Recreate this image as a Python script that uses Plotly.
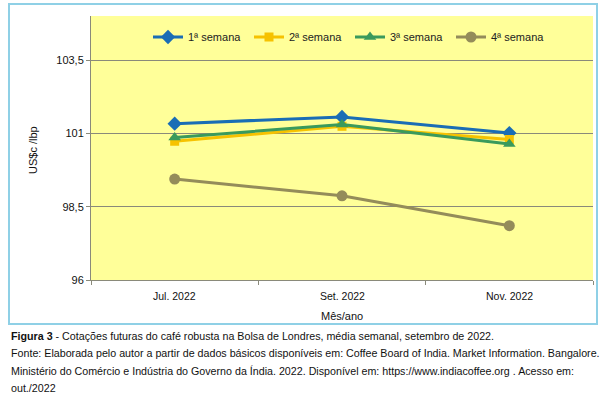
import plotly.graph_objects as go

categories = ["Jul. 2022", "Set. 2022", "Nov. 2022"]
series_names = ["1ª semana", "2ª semana", "3ª semana", "4ª semana"]
semana1 = [101.33, 101.56, 101.01]
semana2 = [100.73, 101.24, 100.79]
semana3 = [100.86, 101.30, 100.64]
semana4 = [99.44, 98.87, 97.85]
y_ticks = [96, 98.5, 101, 103.5]
y_tick_labels = ["96", "98,5", "101", "103,5"]

colors = ["#1a6db5", "#f6c200", "#3a9a5c", "#948c5a"]
symbols = ["diamond", "square", "triangle-up", "circle"]
sizes = [11, 9, 11, 11]

W, H = 608, 398
L, R, T, B = 91, 15, 16, 118
pw, ph = W - L - R, H - T - B

def px(x):
    return (x - L) / pw

def py(y):
    return (H - B - y) / ph

fig = go.Figure()
for name, vals, c, s, sz in zip(series_names, [semana1, semana2, semana3, semana4], colors, symbols, sizes):
    fig.add_trace(go.Scatter(
        x=categories, y=vals, name=name, mode="lines+markers",
        line=dict(color=c, width=3),
        marker=dict(symbol=s, size=sz, color=c),
    ))

fig.update_layout(
    width=W, height=H,
    margin=dict(l=L, r=R, t=T, b=B),
    paper_bgcolor="white",
    plot_bgcolor="#ffff99",
    font=dict(family="Liberation Sans, Arial, sans-serif", size=11, color="#222222"),
    showlegend=True,
    legend=dict(
        orientation="h", x=px(148), y=py(37), xanchor="left", yanchor="middle",
        bgcolor="rgba(0,0,0,0)", font=dict(size=11, color="#222"),
        entrywidth=56, itemwidth=30,
    ),
    xaxis=dict(
        type="category", range=[-0.5, 2.5], showgrid=False,
        showline=True, linecolor="#8a8a7a", linewidth=1,
        ticks="outside", ticklen=4, tickcolor="#8a8a7a",
        tickmode="array", tickvals=[-0.5, 0.5, 1.5, 2.5], ticktext=["", "", "", ""],
        fixedrange=True,
    ),
    yaxis=dict(
        range=[96, 105], tickvals=y_ticks, ticktext=y_tick_labels,
        showgrid=True, gridcolor="#8a8a7a", gridwidth=1,
        showline=True, linecolor="#8a8a7a", linewidth=1,
        ticks="outside", ticklen=4, tickcolor="#8a8a7a",
        tickfont=dict(size=11, color="#111"), zeroline=False,
    ),
)

# category labels (placed at category positions)
for i, cat in enumerate(categories):
    fig.add_annotation(x=i, y=py(296), xref="x", yref="paper", text=cat,
                       showarrow=False, font=dict(size=10.5, color="#111"),
                       xanchor="center", yanchor="middle")

# axis titles
fig.add_annotation(x=px(342), y=py(316), xref="paper", yref="paper", text="Mês/ano",
                   showarrow=False, font=dict(size=11, color="#111"), xanchor="center", yanchor="middle")
fig.add_annotation(x=px(33), y=py(150), xref="paper", yref="paper", text="US$c /lbp",
                   showarrow=False, textangle=-90, font=dict(size=11, color="#111"),
                   xanchor="center", yanchor="middle")

# outer frame
fig.add_shape(type="rect", xref="paper", yref="paper",
              x0=px(9), x1=px(597), y0=py(324), y1=py(4),
              line=dict(color="#8fd0e6", width=2), layer="below")

# caption
caption = [
    "<b>Figura 3</b> - Cotações futuras do café robusta na Bolsa de Londres, média semanal, setembro de 2022.",
    "Fonte: Elaborada pelo autor a partir de dados básicos disponíveis em: Coffee Board of India. Market Information. Bangalore.",
    "Ministério do Comércio e Indústria do Governo da Índia. 2022. Disponível em: https://www.indiacoffee.org . Acesso em:",
    "out./2022",
]
for i, line in enumerate(caption):
    fig.add_annotation(x=px(9), y=py(336 + 17.3 * i), xref="paper", yref="paper", text=line,
                       showarrow=False, font=dict(size=10.7, color="#111"),
                       xanchor="left", yanchor="middle", align="left")

fig.write_html("out.html", config={"displayModeBar": False},
               post_script="document.body.style.margin='0';document.body.style.padding='0';")
